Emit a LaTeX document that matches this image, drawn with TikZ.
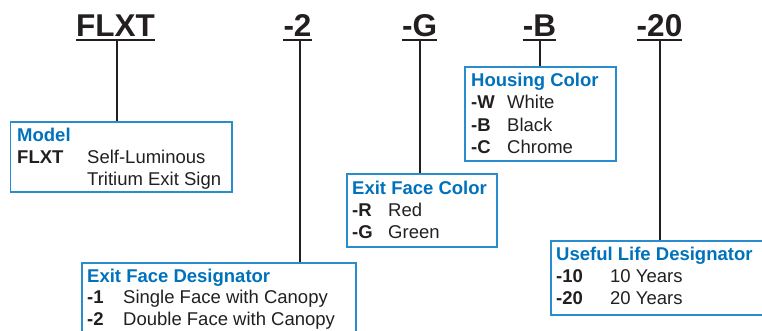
\documentclass[tikz,border=0pt]{standalone}
\usepackage{fontspec}
\setmainfont{Liberation Sans}
\definecolor{hblue}{RGB}{0,114,188}
\definecolor{bblue}{RGB}{40,140,205}
\definecolor{ink}{RGB}{35,31,32}
\begin{document}
\begin{tikzpicture}[x=1pt,y=-1pt,
 code/.style={font=\fontsize{31.5}{36}\selectfont\bfseries, text=ink, inner sep=0pt, anchor=base},
 ul/.style={draw=ink, line width=2.2pt},
 box/.style={draw=bblue, line width=1.5pt, anchor=north west, inner sep=0pt},
 hd/.style={font=\fontsize{18.5}{22}\selectfont\bfseries, text=hblue, inner sep=0pt, anchor=base west},
 key/.style={font=\fontsize{18.5}{22}\selectfont\bfseries, text=ink, inner sep=0pt, anchor=base west},
 val/.style={font=\fontsize{18.5}{22}\selectfont, text=ink, inner sep=0pt, anchor=base west},
 link/.style={draw=ink, line width=1.3pt}]
\useasboundingbox (0,0) rectangle (762,330);

% boxes
\node[box, minimum width=221.5pt, minimum height=70pt] (model) at (9.5,121) {};
\node[box, minimum width=274pt, minimum height=80pt] (efd) at (81,262) {};
\node[box, minimum width=150pt, minimum height=73pt] (efc) at (346,173) {};
\node[box, minimum width=151pt, minimum height=94pt] (hc) at (464,66) {};
\node[box, minimum width=215pt, minimum height=74pt] (ul) at (550,240) {};

% titles
\node[code] (t1) at (115.5,36.5) {FLXT};
\node[code] (t2) at (297.5,36.5) {-2};
\node[code] (t3) at (419.5,36.5) {-G};
\node[code] (t4) at (539.5,36.5) {-B};
\node[code] (t5) at (659.5,36.5) {-20};
\foreach \t in {t1,t2,t3,t4,t5}{
  \draw[ul] ([yshift=-3.6pt]\t.base west) -- ([yshift=-3.6pt]\t.base east);
}

% connectors
\draw[link] ([xshift=1.5pt,yshift=-4.5pt]t1.base) -- ([xshift=1.5pt]t1.base |- model.north);
\draw[link] ([xshift=2.5pt,yshift=-4.5pt]t2.base) -- ([xshift=2.5pt]t2.base |- efd.north);
\draw[link] ([xshift=0.5pt,yshift=-4.5pt]t3.base) -- ([xshift=0.5pt]t3.base |- efc.north);
\draw[link] ([xshift=0.5pt,yshift=-4.5pt]t4.base) -- ([xshift=0.5pt]t4.base |- hc.north);
\draw[link] ([xshift=0.5pt,yshift=-4.5pt]t5.base) -- ([xshift=0.5pt]t5.base |- ul.north);

% Model
\node[hd] (mh) at (17,141) {Model};
\node[key] (mk) at (17,163) {FLXT};
\node[val] (mv1) at (87,163) {Self-Luminous};
\node[val] (mv2) at (87,185) {Tritium Exit Sign};

% Exit Face Designator
\node[hd] (dh) at (87,282) {Exit Face Designator};
\node[key] (dk1) at (87,303.5) {-1};
\node[val] (dv1) at (123,303.5) {Single Face with Canopy};
\node[key] (dk2) at (87,325.5) {-2};
\node[val] (dv2) at (123,325.5) {Double Face with Canopy};

% Exit Face Color
\node[hd] (ch) at (352,194) {Exit Face Color};
\node[key] (ck1) at (352,216) {-R};
\node[val] (cv1) at (388,216) {Red};
\node[key] (ck2) at (352,238) {-G};
\node[val] (cv2) at (388,238) {Green};

% Housing Color
\node[hd] (hh) at (471,86) {Housing Color};
\node[key] (hk1) at (471,108.5) {-W};
\node[val] (hv1) at (507,108.5) {White};
\node[key] (hk2) at (471,131) {-B};
\node[val] (hv2) at (507,131) {Black};
\node[key] (hk3) at (471,153) {-C};
\node[val] (hv3) at (507,153) {Chrome};

% Useful Life Designator
\node[hd] (uh) at (556,260) {Useful Life Designator};
\node[key] (uk1) at (556,282) {-10};
\node[val] (uv1) at (610,282) {10 Years};
\node[key] (uk2) at (556,304) {-20};
\node[val] (uv2) at (610,304) {20 Years};
\end{tikzpicture}
\end{document}
